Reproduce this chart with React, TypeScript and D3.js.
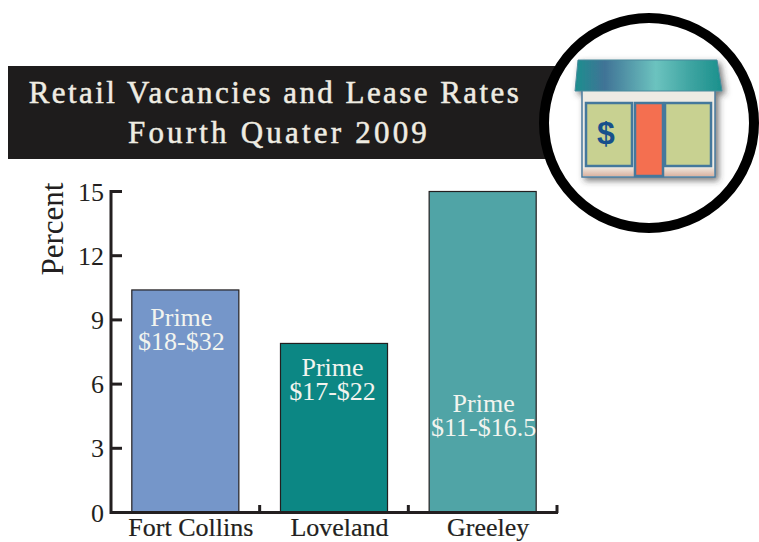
import React from "react";
import * as d3 from "d3";

const categories = ["Fort Collins", "Loveland", "Greeley"];
const vacancy = [10.4, 7.9, 15];
const primeRates = ["$18-$32", "$17-$22", "$11-$16.5"];
const barColors = ["#7596c9", "#0c8784", "#50a4a6"];
const yTicks = [0, 3, 6, 9, 12, 15];
const titleLines = ["Retail Vacancies and Lease Rates", "Fourth Quater 2009"];

const serif = "'Liberation Serif', serif";
const ink = "#231f20";

const x = d3.scaleBand<string>().domain(categories).range([111, 557]).paddingInner(0.28).paddingOuter(0.14);
const y = d3.scaleLinear().domain([0, 15]).range([512.5, 191.5]);

// text inside the bars sits at different heights, same as the original
const labelY = [326, 376, 412];
const labelShift = [-4, -1.5, 1];
const titleSpacing = [2.45, 3.2];

function StoreIcon() {
  return (
    <g>
      <circle cx={649} cy={123} r={105} fill="#fff" stroke="#000" strokeWidth={10} />
      <g filter="url(#storeShadow)">
        <rect x={582} y={90} width={133} height={87} fill="#eeebe4" stroke="#4a7a9c" strokeWidth={1.5} />
        <rect x={583} y={168} width={131} height={8} fill="url(#storeBase)" />
        <path d="M578,60 L717,60 L722,91 L575,91 Z" fill="url(#storeRoof)" stroke="#4a8a9c" strokeWidth={1} />
      </g>
      <rect x={586} y={103} width={46} height={63} fill="#c8d191" stroke="#44789c" strokeWidth={2.5} />
      <rect x={635} y={103} width={28} height={73} fill="#f46f50" stroke="#44789c" strokeWidth={2.5} />
      <rect x={665} y={103} width={46} height={63} fill="#c8d191" stroke="#44789c" strokeWidth={2.5} />
      <text x={606} y={144} textAnchor="middle" fontFamily="'Liberation Sans', sans-serif" fontWeight="bold" fontSize={32} fill="#17508c">
        $
      </text>
    </g>
  );
}

export default function App() {
  const boundaries = categories.map((_, i) => 111 + x.step() * (i + 1));
  return (
    <svg width={759} height={542} style={{ position: "absolute", left: 0, top: 0 }}>
      <defs>
        <linearGradient id="storeRoof" x1="0" x2="1" y1="0" y2="0">
          <stop offset="0" stopColor="#1c8f8e" />
          <stop offset="0.2" stopColor="#407396" />
          <stop offset="0.55" stopColor="#6cc3bf" />
          <stop offset="0.78" stopColor="#3fa5a2" />
          <stop offset="1" stopColor="#1a908c" />
        </linearGradient>
        <linearGradient id="storeBase" x1="0" x2="0" y1="0" y2="1">
          <stop offset="0" stopColor="#eee4da" />
          <stop offset="1" stopColor="#d9b3a2" />
        </linearGradient>
        <filter id="storeShadow" x="-10%" y="-10%" width="125%" height="125%">
          <feDropShadow dx={3} dy={3} stdDeviation={3} floodColor="#333" floodOpacity={0.65} />
        </filter>
      </defs>

      <rect x={8} y={66} width={560} height={93} fill="#1e1c1c" />
      {titleLines.map((line, i) => (
        <text
          key={line}
          x={i === 0 ? 275 : 279}
          y={103 + i * 40}
          textAnchor="middle"
          fontFamily={serif}
          fontSize={31}
          letterSpacing={titleSpacing[i]}
          fill="#efece2"
          stroke="#efece2"
          strokeWidth={0.5}
        >
          {line}
        </text>
      ))}

      <StoreIcon />

      {categories.map((c, i) => {
        const mid = x(c)! + x.bandwidth() / 2;
        return (
          <g key={c}>
            <rect
              x={x(c)}
              y={y(vacancy[i])}
              width={x.bandwidth()}
              height={y(0) - y(vacancy[i])}
              fill={barColors[i]}
              stroke={ink}
              strokeWidth={1.2}
            />
            <text fontFamily={serif} fontSize={26} textAnchor="middle" fill="#f2f4ef">
              <tspan x={mid + labelShift[i]} y={labelY[i]}>Prime</tspan>
              <tspan x={mid + labelShift[i]} y={labelY[i] + 24}>{primeRates[i]}</tspan>
            </text>
            <text
              x={mid + 5.5}
              y={536}
              textAnchor="middle"
              fontFamily={serif}
              fontSize={26}
              fill={ink}
              stroke={ink}
              strokeWidth={0.2}
            >
              {c}
            </text>
          </g>
        );
      })}

      <line x1={111} x2={111} y1={190} y2={514} stroke={ink} strokeWidth={3} />
      <line x1={110} x2={558} y1={512.5} y2={512.5} stroke={ink} strokeWidth={3} />
      {yTicks.map((t) => (
        <g key={t}>
          <line x1={111} x2={122} y1={y(t)} y2={y(t)} stroke={ink} strokeWidth={3} />
          <text x={104} y={y(t) + 9} textAnchor="end" fontFamily={serif} fontSize={26} fill={ink}>
            {t}
          </text>
        </g>
      ))}
      {boundaries.map((b) => (
        <line key={b} x1={b} x2={b} y1={505} y2={513} stroke={ink} strokeWidth={3} />
      ))}

      <text
        transform="translate(63,229) rotate(-90)"
        textAnchor="middle"
        fontFamily={serif}
        fontSize={31}
        fill={ink}
      >
        Percent
      </text>
    </svg>
  );
}
